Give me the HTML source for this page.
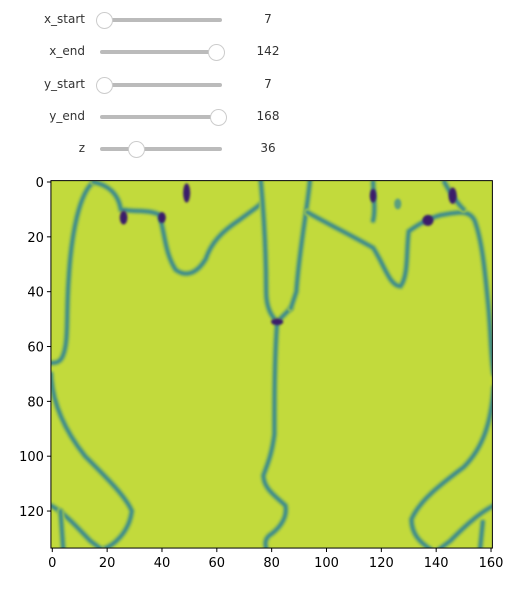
<!DOCTYPE html>
<html><head><meta charset="utf-8"><style>
body{margin:0;width:517px;height:589px;background:#fff;overflow:hidden;font-family:"DejaVu Sans","Liberation Sans",sans-serif}
.row{position:absolute;left:0;height:20px;width:300px}
.lbl{position:absolute;right:215px;top:2px;font-size:12px;color:#333}
.trk{position:absolute;left:100px;width:122px;top:8px;height:4px;background:#bbb;border-radius:2px}
.knob{position:absolute;top:2px;width:15px;height:15px;border-radius:50%;background:#fff;border:1px solid #ccc;margin-left:-8px}
.val{position:absolute;left:250px;width:36px;text-align:center;top:2px;font-size:12px;color:#333}
</style></head><body>
<div id="sliders"></div>
<svg id="chart" width="517" height="589" style="position:absolute;left:0;top:0"></svg>
<script>
const sliderNames=["x_start","x_end","y_start","y_end","z"];
const sliderVals=[7,142,7,168,36];
const sliderFrac=[0.03,0.95,0.03,0.967,0.295];
const xTicks=[0,20,40,60,80,100,120,140,160];
const yTicks=[0,20,40,60,80,100,120];
const contours=[
"M15,0 C10,4 7,18 6,35 C5,48 6,58 4,63 C3,66 1,66 -0.5,66",
"M-0.5,70 C0,80 4,90 12,100 C20,108 27,115 29,120 C28,128 22,133 18,134",
"M-0.5,118 C5,121 10,127 14,131 L18,134",
"M3,120 L4,134",
"M15,0 C20,1 24,4 25,10 C30,11 36,10 39,12 C41,18 41,26 45,32 C49,35 53,33 56,28 C58,22 62,18 68,14 C72,11 75,9 76,8",
"M76,-1 C77,10 78,25 78,40 C78,46 80,49 82,51 C84,49 86,47 87,46",
"M94,-1 C93,10 90,25 89,40 L87,46",
"M82,51 C81,65 81,80 81,92 C80,100 78,104 77,107 C77,112 82,115 85,118 C86,123 82,127 79,129 C77,131 78,133 78,134",
"M93,11 C100,15 110,20 117,24 C121,30 123,38 127,38 C130,34 129,25 130,18 C134,15 138,13 142,12 C148,11 152,10 154,14 C157,22 158,35 159,45 C160,55 160,65 161,70",
"M161,75 C160,88 157,97 150,104 C142,110 134,116 131,123 C131,129 135,132 138,134",
"M161,118 C155,121 149,127 145,131 L141,134",
"M157,124 L156,134",
"M117,0 C117,4 118,10 117,14",
"M143,0 C145,4 148,8 150,10"
];
const spots=[[26,13,1.4,2.5],[40,13,1.4,2],[49,4,1.3,3.5],[117,5,1.2,2.5],[137,14,2,2],[146,5,1.5,3],[82,51,2.2,1.2]];
const X0=52.3,Y0=182,S=2.742;
const sx=v=>X0+v*S, sy=v=>Y0+v*S;
const NS="http://www.w3.org/2000/svg";
const svg=document.getElementById('chart');
function mk(t,a,p){const e=document.createElementNS(NS,t);for(const k in a)e.setAttribute(k,a[k]);(p||svg).appendChild(e);return e;}
const sp=document.getElementById('sliders');
sliderNames.forEach((n,i)=>{
 const r=document.createElement('div');r.className='row';r.style.top=(10+i*32.3)+'px';
 
 
 r.innerHTML='<span class="lbl">'+n+'</span><div class="trk"></div><div class="knob" style="left:'+(100+sliderFrac[i]*122)+'px"></div><span class="val">'+sliderVals[i]+'</span>';
 sp.appendChild(r);
});
const defs=mk('defs',{});
const f=mk('filter',{id:'bl',filterUnits:'userSpaceOnUse',x:-10,y:-10,width:200,height:160},defs);mk('feGaussianBlur',{stdDeviation:'0.35'},f);
const cp=mk('clipPath',{id:'cp'},defs);mk('rect',{x:-0.5,y:-0.5,width:161,height:134},cp);
const bg=mk('rect',{x:sx(-0.5),y:sy(-0.5),width:161*S,height:134*S,fill:'#c2da3c'});


const g=mk('g',{transform:`translate(${X0},${Y0}) scale(${S})`});
const gi=mk('g',{'clip-path':'url(#cp)'},g);
contours.forEach((d,i)=>{
 mk('path',{d:d,fill:'none',stroke:'#9cc550',"stroke-width":2.6,"stroke-linecap":'round',filter:'url(#bl)'},gi);
 const q=mk('path',{d:d,fill:'none',stroke:'#3f8d8b',"stroke-width":1.3,"stroke-linecap":'round',filter:'url(#bl)'},gi);
 
 
});
const blob=mk('ellipse',{cx:126,cy:8,rx:1.3,ry:2,fill:'#5a9f80',filter:'url(#bl)'},gi);


spots.forEach((s,i)=>{
 const e=mk('ellipse',{cx:s[0],cy:s[1],rx:s[2],ry:s[3],fill:'#3b1f6b',filter:'url(#bl)'},gi);
 
 
});
const fr=mk('rect',{x:sx(-0.5),y:sy(-0.5),width:161*S,height:134*S,fill:'none',stroke:'#000','stroke-width':1});


xTicks.forEach(v=>{
 mk('line',{x1:sx(v),x2:sx(v),y1:sy(133.5),y2:sy(133.5)+4,stroke:'#000'});
 const t=mk('text',{x:sx(v),y:sy(133.5)+19,'text-anchor':'middle','font-size':13,fill:'#000'});t.textContent=v;
 
 
});
yTicks.forEach(v=>{
 mk('line',{x1:sx(-0.5),x2:sx(-0.5)-4,y1:sy(v),y2:sy(v),stroke:'#000'});
 const t=mk('text',{x:sx(-0.5)-7,y:sy(v)+5,'text-anchor':'end','font-size':13,fill:'#000'});t.textContent=v;
 
 
});
</script>
</body></html>
